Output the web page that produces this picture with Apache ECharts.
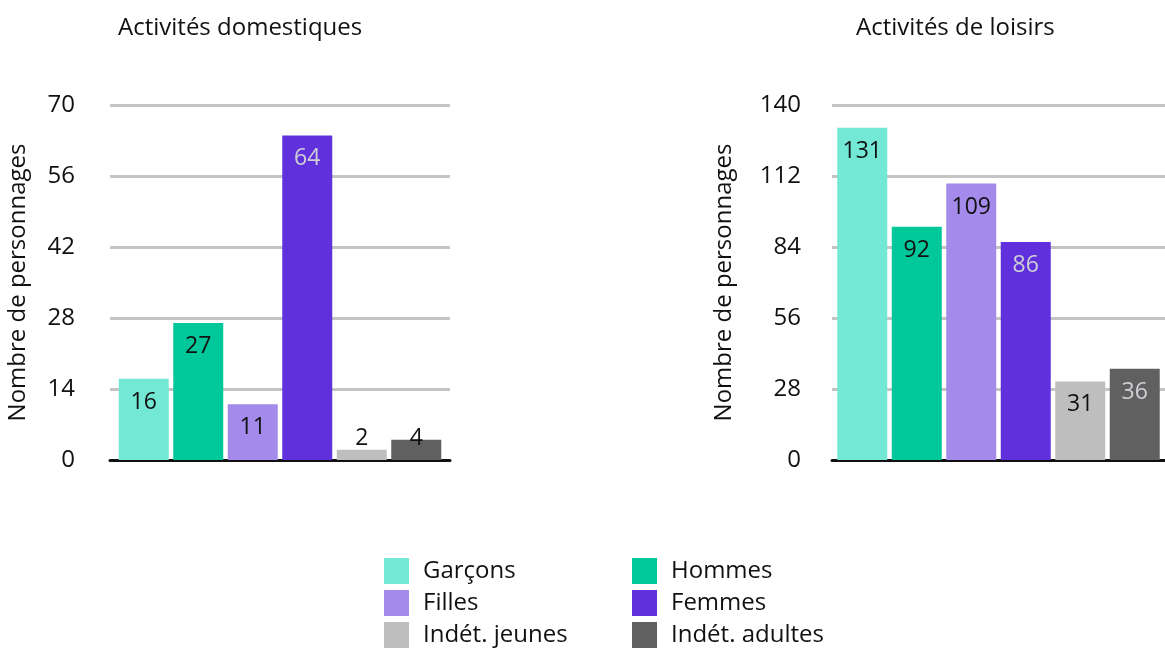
<!DOCTYPE html>
<html>
<head>
<meta charset="utf-8">
<script src="https://cdn.jsdelivr.net/npm/echarts@6/dist/echarts.min.js"></script>
<style>html,body{margin:0;padding:0;background:#fff;}#c{width:1165px;height:648px;}</style>
</head>
<body>
<div id="c"></div>
<script>
const panels = ['Activités domestiques', 'Activités de loisirs'];
const groups = ['Garçons', 'Hommes', 'Filles', 'Femmes', 'Indét. jeunes', 'Indét. adultes'];
const domestiques = [16, 27, 11, 64, 2, 4];
const loisirs = [131, 92, 109, 86, 31, 36];
const yMax = [70, 140];
const yInterval = [14, 28];
const yName = 'Nombre de personnages';

const values = [domestiques, loisirs];
const colors = ['#73E8D5', '#00C89A', '#A48AEB', '#5F30DC', '#BEBEBE', '#606060'];
const darkBar = [false, false, false, true, false, true];
const FONT = 'Open Sans';

const chart = echarts.init(document.getElementById('c'));
const series = [];
for (let g = 0; g < 2; g++) {
  for (let i = 0; i < groups.length; i++) {
    const v = values[g][i];
    const small = v / yMax[g] < 0.1;
    series.push({
      type: 'bar',
      name: groups[i],
      xAxisIndex: g,
      yAxisIndex: g,
      barWidth: 50,
      barGap: '9%',
      itemStyle: { color: colors[i] },
      label: {
        show: true,
        position: small ? 'insideBottom' : 'insideTop',
        distance: small ? 10 : 12,
        fontFamily: FONT,
        fontSize: 23,
        color: (darkBar[i] && !small) ? '#cfcfd6' : '#111'
      },
      emphasis: { disabled: true },
      data: [v]
    });
  }
}

const grids = [
  { left: 110, width: 340, top: 105, bottom: 188 },
  { left: 832, right: 0, top: 105, bottom: 188 }
];

const legendBase = {
  orient: 'vertical', top: 558, height: 200, padding: 0,
  itemWidth: 25, itemHeight: 26, itemGap: 6, icon: 'rect',
  textStyle: { fontFamily: FONT, fontSize: 24, color: '#111', padding: [0, 0, 0, 9] }
};

const titleStyle = { fontFamily: FONT, fontSize: 24, fontWeight: 'normal', color: '#111' };

const option = {
  animation: false,
  backgroundColor: '#fff',
  title: [
    { text: panels[0], left: 113, top: 11, textStyle: titleStyle },
    { text: panels[1], left: 851, top: 11, textStyle: titleStyle }
  ],
  legend: [
    Object.assign({}, legendBase, { left: 384, data: [groups[0], groups[2], groups[4]] }),
    Object.assign({}, legendBase, { left: 632, data: [groups[1], groups[3], groups[5]] })
  ],
  grid: grids,
  xAxis: [0, 1].map(g => ({
    type: 'category', gridIndex: g, data: [panels[g]],
    axisLine: { show: true, lineStyle: { color: '#111', width: 3 } },
    axisTick: { show: false }, axisLabel: { show: false }
  })),
  yAxis: [0, 1].map(g => ({
    type: 'value', gridIndex: g, min: 0, max: yMax[g], interval: yInterval[g],
    name: yName, nameLocation: 'middle', nameGap: g === 0 ? 80 : 96,
    nameTextStyle: { fontFamily: FONT, fontSize: 24, color: '#111' },
    axisLine: { show: false }, axisTick: { show: false },
    axisLabel: { fontFamily: FONT, fontSize: 24, color: '#111', margin: 35 - g * 4 },
    splitLine: { lineStyle: { color: '#c4c4c4', width: 3 } }
  })),
  series: series
};
chart.setOption(option);
</script>
</body>
</html>
